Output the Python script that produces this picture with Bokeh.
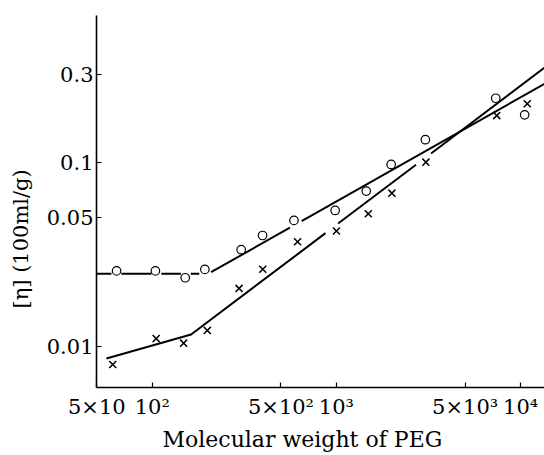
from bokeh.plotting import figure
from bokeh.models import FixedTicker, Range1d, Title
from bokeh.embed import file_html
from bokeh.resources import INLINE

nan = float("nan")

# Circles (upper series)
circ_mw = [64, 104, 151, 193, 304, 397, 588, 984, 1452, 1982, 3040, 7330, 10520]
circ_eta = [0.0257, 0.0257, 0.0236, 0.0262, 0.0335, 0.0400, 0.0483, 0.0547,
            0.0697, 0.0972, 0.1324, 0.2223, 0.1807]

# Crosses (lower series)
cross_mw = [61, 105, 148, 199, 296, 398, 615, 1000, 1489, 2000, 3060, 7420, 10870]
cross_eta = [0.00798, 0.01104, 0.01042, 0.01222, 0.02065, 0.02624, 0.0370,
             0.0423, 0.0525, 0.0679, 0.1000, 0.179, 0.2075]

# Fitted lines (NaN = break in the drawn line)
up_line_mw = [50, 60, nan, 68, 99, nan, 112, 143, nan, 162, 180, nan,
              208.6, 559, nan, 647, 14000]
up_line_eta = [0.0248, 0.0248, nan, 0.0248, 0.0248, nan, 0.0248, 0.0248, nan,
               0.0248, 0.0248, nan, 0.0253, 0.0441, nan, 0.0479, 0.272]

low_line_mw = [56.4, 162.5, 872, nan, 1021, 2704, nan, 3265, 14000]
low_line_eta = [0.00861, 0.01161, 0.0412, nan, 0.0465, 0.0968, nan, 0.1114, 0.335]

x_ticks = [50, 100, 500, 1000, 5000, 10000]
x_labels = ["5×10", "10²", "5×10²", "10³", "5×10³", "10⁴"]
y_ticks = [0.01, 0.05, 0.1, 0.3]
y_labels = ["0.01", "0.05", "0.1", "0.3"]

FONT = "DejaVu Serif"
W, H = 544, 455

p = figure(width=W, height=H, x_axis_type="log", y_axis_type="log",
           x_range=Range1d(49.8, 13480), y_range=Range1d(0.00599, 0.625),
           output_backend="svg", toolbar_location=None,
           min_border_left=94, min_border_right=0, min_border_top=15,
           min_border_bottom=H - 387)
p.outline_line_color = None
p.grid.visible = False
p.background_fill_color = "white"
p.border_fill_color = "white"

p.xaxis.ticker = FixedTicker(ticks=x_ticks)
p.xaxis.major_label_overrides = {t: l for t, l in zip(x_ticks, x_labels)}
p.yaxis.ticker = FixedTicker(ticks=y_ticks)
p.yaxis.major_label_overrides = {t: l for t, l in zip(y_ticks, y_labels)}

for ax in (p.xaxis, p.yaxis):
    ax.axis_line_width = 1.6
    ax.axis_line_color = "black"
    ax.major_tick_in = 5
    ax.major_tick_out = 0
    ax.major_tick_line_color = "black"
    ax.major_tick_line_width = 1.2
    ax.minor_tick_line_color = None
    ax.major_label_text_font = FONT
    ax.major_label_text_font_size = "21px"
    ax.major_label_text_color = "black"

p.xaxis.major_label_standoff = 7
p.yaxis.major_label_standoff = 3

xt = Title(text="Molecular weight of PEG", align="left", offset=66,
           text_font=FONT, text_font_size="22px", text_font_style="normal",
           text_color="black", standoff=6)
p.add_layout(xt, "below")
yt = Title(text="[η]   (100ml/g)", align="left", offset=79, vertical_align="top",
           text_font=FONT, text_font_size="21px", text_font_style="normal",
           text_color="black", standoff=17)
p.add_layout(yt, "left")

p.line(up_line_mw, up_line_eta, line_width=2, line_color="black")
p.line(low_line_mw, low_line_eta, line_width=2, line_color="black")

p.scatter(circ_mw, circ_eta, marker="circle", size=8.5, fill_color="white",
          line_color="black", line_width=1.2)
p.scatter(cross_mw, cross_eta, marker="x", size=10, line_color="black",
          line_width=1.5)

open("out.html", "w").write(file_html(p, INLINE))
